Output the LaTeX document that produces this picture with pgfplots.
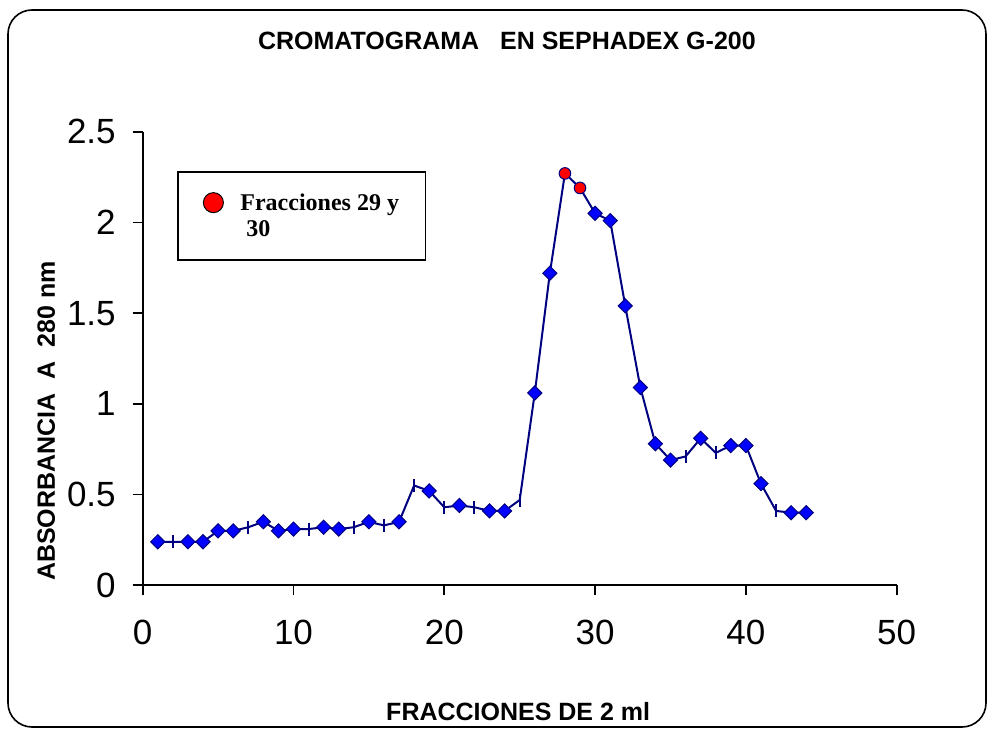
\documentclass[border=0pt]{standalone}
\usepackage{fontspec}
\setmainfont{Liberation Sans}
\newfontfamily\legfont{Liberation Serif}
\usepackage{pgfplots}
\usepackage{pgfplotstable}
\pgfplotsset{compat=1.18}
\definecolor{navy}{RGB}{0,0,128}
\definecolor{mblue}{RGB}{0,0,255}

\pgfplotstableread{
x y
1 0.24
2 0.24
3 0.24
4 0.24
5 0.30
6 0.30
7 0.32
8 0.35
9 0.30
10 0.31
11 0.31
12 0.32
13 0.31
14 0.32
15 0.35
16 0.33
17 0.35
18 0.55
19 0.52
20 0.43
21 0.44
22 0.43
23 0.41
24 0.41
25 0.47
26 1.06
27 1.72
28 2.27
29 2.19
30 2.05
31 2.01
32 1.54
33 1.09
34 0.78
35 0.69
36 0.71
37 0.81
38 0.73
39 0.77
40 0.77
41 0.56
42 0.41
43 0.40
44 0.40
}\alldata

\pgfplotstableread{
x y
1 0.24
3 0.24
4 0.24
5 0.30
6 0.30
8 0.35
9 0.30
10 0.31
12 0.32
13 0.31
15 0.35
17 0.35
19 0.52
21 0.44
23 0.41
24 0.41
26 1.06
27 1.72
30 2.05
31 2.01
32 1.54
33 1.09
34 0.78
35 0.69
37 0.81
39 0.77
40 0.77
41 0.56
43 0.40
44 0.40
}\diamdata

\pgfplotstableread{
x y
2 0.24
7 0.32
11 0.31
14 0.32
16 0.33
18 0.55
20 0.43
22 0.43
25 0.47
36 0.71
38 0.73
42 0.41
}\dashdata

\pgfplotstableread{
x y
28 2.27
29 2.19
}\reddata

\begin{document}
\begin{tikzpicture}[x=1pt,y=1pt]
\useasboundingbox (-142.7,-144.7) rectangle (847.3,585.3);
\draw[line width=1.6pt, rounded corners=24pt] (-134.7,-141.7) rectangle (843.3,575.3);
\begin{axis}[
  at={(0pt,0pt)}, anchor=south west,
  scale only axis, width=754pt, height=453.6pt,
  xmin=0, xmax=50, ymin=0, ymax=2.5,
  xtick={0,10,20,30,40,50},
  ytick={0,0.5,1,1.5,2,2.5},
  axis lines*=left,
  axis line style={line width=1.8pt, black},
  tick style={line width=1.8pt, black},
  tick align=outside,
  major tick length=10pt,
  ticklabel style={font=\fontsize{35}{38}\selectfont},
  xticklabel style={yshift=-21pt},
  yticklabel style={xshift=-13.5pt, /pgf/number format/fixed},
  /pgf/number format/assume math mode=true,
  title={CROMATOGRAMA\ \ \ EN SEPHADEX G-200},
  title style={at={(axis description cs:0.483,1.187)}, anchor=center, font=\bfseries\fontsize{25}{28}\selectfont},
  xlabel={FRACCIONES DE 2 ml},
  xlabel style={at={(axis description cs:0.498,-0.279)}, anchor=center, font=\bfseries\fontsize{25}{28}\selectfont},
  ylabel={ABSORBANCIA\ \ A\ \ 280 nm},
  ylabel style={at={(axis description cs:-0.128,0.362)}, anchor=center, font=\bfseries\fontsize{25}{28}\selectfont},
  legend style={at={(axis description cs:0.0455,0.913)}, anchor=north west,
    draw=black, line width=1.8pt, inner xsep=25.5pt, inner ysep=20.5pt,
    row sep=7pt, column sep=16pt,
    nodes={inner sep=1pt},
    font=\legfont\bfseries\fontsize{24}{27}\selectfont},
  legend cell align=left,
  clip=false,
]
\addplot[navy, line width=2pt, no markers, forget plot] table {\alldata};
\addplot[only marks, mark=square*, mark size=5pt,
  mark options={rotate=45, fill=mblue, draw=navy, line width=1pt}, forget plot] table {\diamdata};
\addplot[only marks, mark=|, mark size=6.5pt,
  mark options={draw=navy, line width=2pt}, forget plot] table {\dashdata};
\addplot[only marks, mark=*, mark size=5.8pt,
  mark options={fill=red, draw=navy, line width=1pt},
  legend image code/.code={\draw[mark=*, mark size=10pt, mark options={fill=red, draw=black, line width=1pt}] plot coordinates {(0pt,0pt)};}
  ] table {\reddata};
\addlegendentry{Fracciones 29 y}
\addlegendimage{empty legend}
\addlegendentry{\ 30}
\end{axis}
\end{tikzpicture}
\end{document}
